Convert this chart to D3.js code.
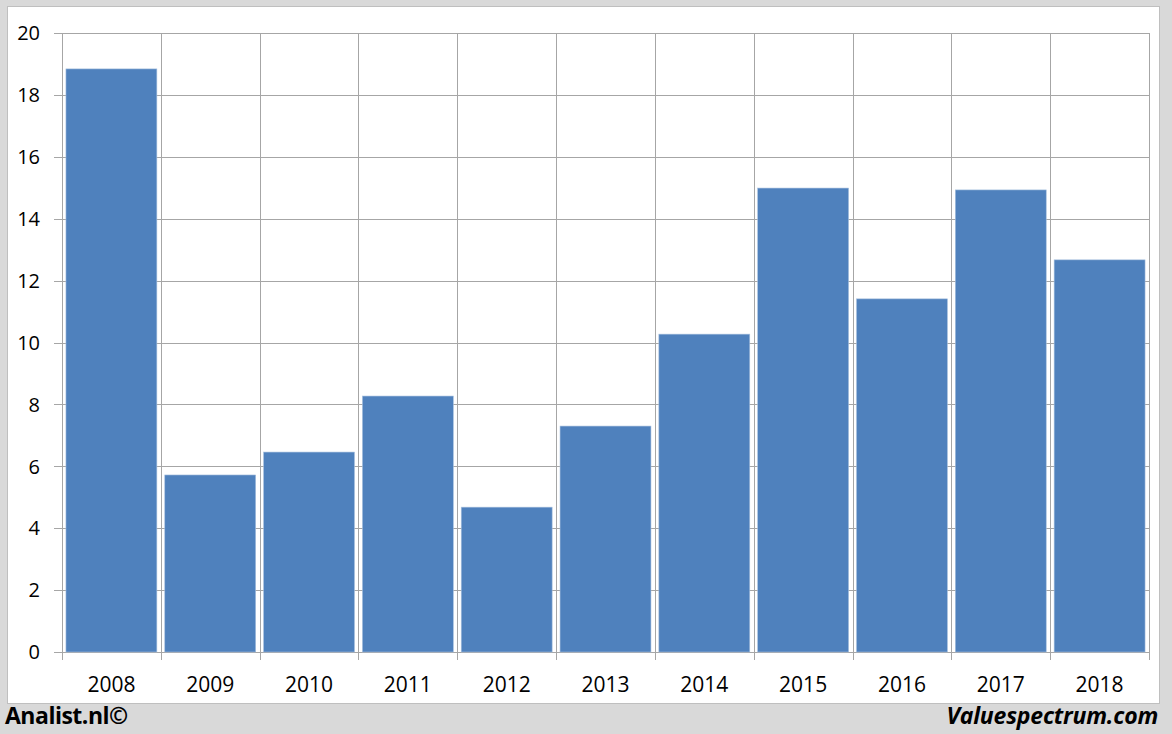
<!DOCTYPE html>
<html><head><meta charset="utf-8">
<script src="https://cdn.jsdelivr.net/npm/d3@7/dist/d3.min.js"></script>
<style>body{margin:0;background:#d9d9d9;}svg{display:block;}</style>
</head><body><svg id="c" width="1172" height="734"></svg>
<script>
const categories = ["2008","2009","2010","2011","2012","2013","2014","2015","2016","2017","2018"];
const values = [18.84, 5.72, 6.46, 8.27, 4.68, 7.30, 10.27, 14.99, 11.41, 14.93, 12.67];
const yTicks = [0,2,4,6,8,10,12,14,16,18,20];

const svg = d3.select("#c");
svg.append("rect").attr("x",0).attr("y",0).attr("width",1172).attr("height",734).attr("fill","#d9d9d9");
svg.append("rect").attr("x",7.5).attr("y",6.5).attr("width",1152).attr("height",697).attr("fill","#fff").attr("stroke","#bfbfbf");

const L=62, R=1149, T=33, B=652;
const x = d3.scaleBand().domain(categories).range([L,R]).paddingInner(0.08).paddingOuter(0.04);
const xb = d3.scaleBand().domain(categories).range([L,R]);
const y = d3.scaleLinear().domain([0,20]).range([B,T]);
const font = "'Open Sans', sans-serif";

const g = svg.append("g");
g.selectAll("line.h").data(yTicks).join("line")
  .attr("x1",L-8).attr("x2",R).attr("y1",d=>Math.round(y(d))+0.5).attr("y2",d=>Math.round(y(d))+0.5)
  .attr("stroke","#a6a6a6").attr("stroke-width",1);
const bounds = categories.map(c=>xb(c)).concat([R]);
g.selectAll("line.v").data(bounds).join("line")
  .attr("x1",d=>Math.round(d)+0.5).attr("x2",d=>Math.round(d)+0.5)
  .attr("y1",T).attr("y2",B+8)
  .attr("stroke","#a6a6a6").attr("stroke-width",1);

g.selectAll("rect.bar").data(values).join("rect")
  .attr("x",(d,i)=>x(categories[i])).attr("width",x.bandwidth())
  .attr("y",d=>y(d)).attr("height",d=>B-y(d))
  .attr("fill","#4f81bd").attr("stroke","#a7c0de").attr("stroke-width",0.6);

g.selectAll("text.y").data(yTicks).join("text")
  .attr("x",40).attr("y",d=>y(d)).attr("dy","0.36em").attr("text-anchor","end")
  .attr("font-family",font).attr("font-size",20).attr("fill","#000").text(d=>d);
g.selectAll("text.x").data(categories).join("text")
  .attr("x",d=>xb(d)+xb.bandwidth()/2).attr("y",692).attr("text-anchor","middle")
  .attr("font-family",font).attr("font-size",21).attr("fill","#000").text(d=>d);

svg.append("text").attr("x",5).attr("y",724).attr("font-family",font).attr("font-weight","bold")
  .attr("font-size",23).attr("letter-spacing",-0.5).text("Analist.nl©");
svg.append("text").attr("x",1158).attr("y",724).attr("text-anchor","end").attr("font-family",font)
  .attr("font-weight","bold").attr("font-style","italic").attr("font-size",23).attr("letter-spacing",-0.2).text("Valuespectrum.com");
</script></body></html>
